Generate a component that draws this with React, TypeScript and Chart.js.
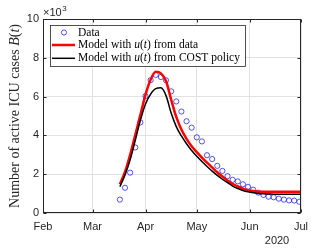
import React, { useEffect, useRef } from 'react';
import { Chart, registerables } from 'chart.js';

Chart.register(...registerables);

// Days counted from 1 Feb 2020
const dataDays = [45, 48, 51, 54, 57, 60, 63, 66, 69, 72, 75, 78, 81, 84, 87, 90, 93, 96, 99, 102, 105, 108, 111, 114, 117, 120, 123, 126, 129, 132, 135, 138, 141, 144, 147, 150];
const dataValues = [0.69, 1.3, 2.08, 3.38, 4.67, 6.03, 6.85, 7.12, 7.01, 6.84, 6.27, 5.75, 5.23, 4.73, 4.4, 3.9, 3.69, 2.98, 2.78, 2.43, 2.17, 1.9, 1.71, 1.63, 1.48, 1.35, 1.2, 1.05, 0.93, 0.84, 0.81, 0.74, 0.69, 0.65, 0.64, 0.58];

const modelDays = [45, 48, 51, 54, 57, 60, 63, 66, 69, 72, 75, 78, 81, 84, 87, 90, 93, 96, 99, 102, 105, 108, 111, 114, 117, 120, 123, 126, 129, 132, 135, 138, 141, 144, 147, 150, 151];
const redValues = [1.48, 2.12, 3.0, 4.02, 5.06, 6.1, 6.88, 7.28, 7.2, 6.8, 5.85, 4.95, 4.3, 3.82, 3.44, 3.14, 2.86, 2.6, 2.35, 2.1, 1.88, 1.68, 1.51, 1.37, 1.26, 1.18, 1.13, 1.1, 1.09, 1.09, 1.09, 1.09, 1.09, 1.09, 1.09, 1.09, 1.09];
const blackValues = [1.36, 1.96, 2.74, 3.75, 4.78, 5.62, 6.13, 6.41, 6.45, 6.05, 5.15, 4.45, 3.97, 3.57, 3.22, 2.92, 2.65, 2.4, 2.16, 1.94, 1.74, 1.56, 1.39, 1.26, 1.16, 1.09, 1.04, 1.01, 0.99, 0.98, 0.97, 0.97, 0.97, 0.97, 0.97, 0.97, 0.97];

const monthTickDays = [0, 29, 60, 90, 121, 151];
const monthLabels = ['Feb', 'Mar', 'Apr', 'May', 'Jun', 'Jul'];
const yTicks = [0, 2, 4, 6, 8, 10];
const yearLabel = '2020';
const exponentBase = '\u00d710';
const exponentPower = '3';
const yTitle = 'Number of active ICU cases $B(t)$';
const legendLabels = ['Data', 'Model with $u(t)$ from data', 'Model with $u(t)$ from COST policy'];

const SERIF = '"Liberation Serif", "Times New Roman", serif';
const SANS = '"Liberation Sans", Arial, sans-serif';
const AXIS_COLOR = '#262626';

type Seg = { t: string; it: boolean };

function parseMath(s: string): Seg[] {
  const out: Seg[] = [];
  const pieces = s.split('$');
  pieces.forEach((p, i) => {
    if (i % 2 === 0) {
      if (p) out.push({ t: p, it: false });
    } else {
      for (const ch of p) {
        out.push({ t: ch, it: /[A-Za-z]/.test(ch) });
      }
    }
  });
  return out;
}

function mixedWidth(ctx: CanvasRenderingContext2D, segs: Seg[], size: number) {
  let w = 0;
  for (const s of segs) {
    ctx.font = `${s.it ? 'italic ' : ''}${size}px ${SERIF}`;
    w += ctx.measureText(s.t).width;
  }
  return w;
}

function drawMixed(ctx: CanvasRenderingContext2D, text: string, x: number, y: number, size: number, align: 'left' | 'center') {
  const segs = parseMath(text);
  let cx = x;
  if (align === 'center') cx = x - mixedWidth(ctx, segs, size) / 2;
  ctx.textAlign = 'left';
  ctx.textBaseline = 'middle';
  for (const s of segs) {
    ctx.font = `${s.it ? 'italic ' : ''}${size}px ${SERIF}`;
    ctx.fillText(s.t, cx, y);
    cx += ctx.measureText(s.t).width;
  }
}

const decorPlugin = {
  id: 'decor',
  afterDraw(chart: any) {
    const ctx: CanvasRenderingContext2D = chart.ctx;
    const { left, right, top, bottom } = chart.chartArea;
    const xs = chart.scales.x;
    const ys = chart.scales.y;
    ctx.save();
    // box
    ctx.strokeStyle = AXIS_COLOR;
    ctx.lineWidth = 1;
    const L = Math.round(left) + 0.5;
    const R = Math.round(right) - 0.5;
    const T = Math.round(top) + 0.5;
    const B = Math.round(bottom) - 0.5;
    ctx.strokeRect(L, T, R - L, B - T);
    // inward ticks
    const tl = 3;
    ctx.beginPath();
    for (const v of yTicks) {
      const py = Math.round(ys.getPixelForValue(v)) + 0.5;
      ctx.moveTo(L, py); ctx.lineTo(L + tl, py);
      ctx.moveTo(R, py); ctx.lineTo(R - tl, py);
    }
    for (const d of monthTickDays) {
      const px = Math.round(xs.getPixelForValue(d)) + 0.5;
      ctx.moveTo(px, B); ctx.lineTo(px, B - tl);
      ctx.moveTo(px, T); ctx.lineTo(px, T + tl);
    }
    ctx.stroke();

    // exponent label
    ctx.fillStyle = AXIS_COLOR;
    ctx.textBaseline = 'alphabetic';
    ctx.textAlign = 'left';
    ctx.font = `11px ${SANS}`;
    ctx.fillText(exponentBase, left, top - 3);
    const bw = ctx.measureText(exponentBase).width;
    ctx.font = `8px ${SANS}`;
    ctx.fillText(exponentPower, left + bw + 0.5, top - 8);

    // year label
    ctx.font = `11px ${SANS}`;
    ctx.textAlign = 'center';
    ctx.textBaseline = 'middle';
    ctx.fillText(yearLabel, 277, 241);

    // y title
    ctx.save();
    ctx.translate(15, (top + bottom) / 2);
    ctx.rotate(-Math.PI / 2);
    ctx.fillStyle = AXIS_COLOR;
    drawMixed(ctx, yTitle, 0, 0, 14, 'center');
    ctx.restore();

    // legend
    const lx = 50, ly = 25, lw = 195, lh = 41;
    ctx.fillStyle = '#ffffff';
    ctx.fillRect(lx, ly, lw, lh);
    ctx.strokeStyle = AXIS_COLOR;
    ctx.lineWidth = 0.8;
    ctx.strokeRect(lx + 0.5, ly + 0.5, lw, lh);
    const rows = [32.5, 45, 58.3];
    // marker
    ctx.strokeStyle = 'rgba(0,0,255,0.75)';
    ctx.lineWidth = 0.9;
    ctx.beginPath();
    ctx.arc(64, rows[0], 2.6, 0, Math.PI * 2);
    ctx.stroke();
    ctx.strokeStyle = '#ff0000';
    ctx.lineWidth = 2.5;
    ctx.beginPath();
    ctx.moveTo(52, rows[1]); ctx.lineTo(75, rows[1]);
    ctx.stroke();
    ctx.strokeStyle = '#000000';
    ctx.lineWidth = 1.5;
    ctx.beginPath();
    ctx.moveTo(52, rows[2]); ctx.lineTo(75, rows[2]);
    ctx.stroke();
    ctx.fillStyle = '#000000';
    legendLabels.forEach((lab, i) => drawMixed(ctx, lab, 78, rows[i], 11.5, 'left'));
    ctx.restore();
  },
};

export default function App() {
  const ref = useRef<HTMLCanvasElement | null>(null);
  useEffect(() => {
    if (!ref.current) return;
    const toXY = (xs: number[], ys: number[]) => xs.map((x, i) => ({ x, y: ys[i] }));
    const chart = new Chart(ref.current, {
      type: 'line',
      data: {
        datasets: [
          {
            label: 'Data',
            data: toXY(dataDays, dataValues),
            showLine: false,
            pointStyle: 'circle',
            pointRadius: 2.6,
            pointBorderWidth: 0.9,
            pointBorderColor: 'rgba(0,0,255,0.75)',
            pointBackgroundColor: 'rgba(0,0,0,0)',
            borderColor: 'rgba(0,0,255,0.75)',
            order: 3,
          },
          {
            label: 'Model with u(t) from data',
            data: toXY(modelDays, redValues),
            borderColor: '#ff0000',
            borderWidth: 2.5,
            pointRadius: 0,
            cubicInterpolationMode: 'monotone',
            order: 2,
          },
          {
            label: 'Model with u(t) from COST policy',
            data: toXY(modelDays, blackValues),
            borderColor: '#000000',
            borderWidth: 1.5,
            pointRadius: 0,
            cubicInterpolationMode: 'monotone',
            order: 1,
          },
        ],
      },
      options: {
        animation: false,
        responsive: false,
        devicePixelRatio: 1,
        layout: { padding: { left: 0, right: 31, top: 19, bottom: 0 } },
        plugins: { legend: { display: false }, tooltip: { enabled: false } },
        scales: {
          x: {
            type: 'linear',
            min: 0,
            max: 151,
            afterBuildTicks: (s: any) => { s.ticks = monthTickDays.map((v) => ({ value: v })); },
            afterFit: (s: any) => { s.height = 36; },
            ticks: {
              autoSkip: false,
              maxRotation: 0,
              padding: 7,
              color: AXIS_COLOR,
              font: { family: SANS, size: 11 },
              callback: (v: any) => { const i = monthTickDays.indexOf(Number(v)); return i >= 0 ? monthLabels[i] : ''; },
            },
            grid: { color: '#e2e2e2', lineWidth: 1, drawTicks: false },
            border: { display: false },
          },
          y: {
            type: 'linear',
            min: 0,
            max: 10,
            afterBuildTicks: (s: any) => { s.ticks = yTicks.map((v) => ({ value: v })); },
            afterFit: (s: any) => { s.width = 43; },
            ticks: {
              padding: 4,
              color: AXIS_COLOR,
              font: { family: SANS, size: 11 },
              callback: (v: any) => String(v),
            },
            grid: { color: '#e2e2e2', lineWidth: 1, drawTicks: false },
            border: { display: false },
          },
        },
      },
      plugins: [decorPlugin],
    } as any);
    return () => chart.destroy();
  }, []);
  return (
    <div style={{ position: 'fixed', left: 0, top: 0, width: 332, height: 249, background: '#ffffff' }}>
      <canvas ref={ref} width={332} height={249} style={{ display: 'block', width: 332, height: 249 }} />
    </div>
  );
}
